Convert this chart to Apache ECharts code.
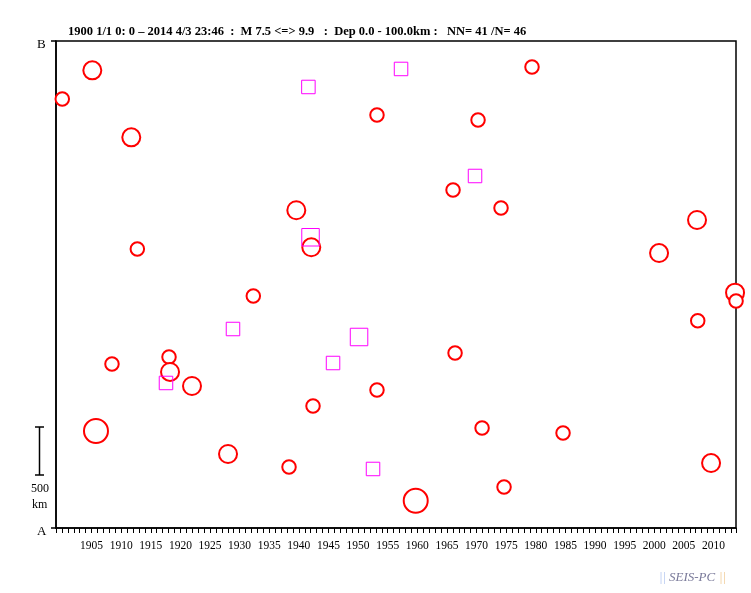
<!DOCTYPE html>
<html><head><meta charset="utf-8">
<script src="https://cdn.jsdelivr.net/npm/echarts@6/dist/echarts.min.js"></script>
<style>html,body{margin:0;padding:0;background:#fff}#c{width:751px;height:593px}</style>
</head><body><div id="c"></div>
<script>
// Shallow events (circles): [decimal year, distance along A-B (km), magnitude]
const circleYears = [1900.06,1905.13,1911.71,1912.73,1908.45,1918.08,1918.25,1905.75,1921.96,1928.04,1932.31,1939.57,1942.10,1938.34,1942.39,1953.19,1953.19,1959.73,1966.03,1970.25,1966.37,1974.13,1970.93,1979.36,1974.64,1984.60,2000.81,2007.22,2007.34,2013.64,2013.81,2009.59];
const circleDist  = [4405,4699,4011,2864,1684,1756,1602,996,1458,760,2382,3262,2882,626,1253,4240,1417,280,3470,4189,1797,3285,1027,4733,421,975,2823,3162,2128,2416,2331,667];
const circleMag   = [7.6,8.1,8.1,7.6,7.6,7.6,8.1,8.8,8.1,8.1,7.6,8.1,8.1,7.6,7.6,7.6,7.6,9.5,7.6,7.6,7.6,7.6,7.6,7.6,7.6,7.6,8.1,8.1,7.6,8.1,7.6,8.1];
// Other events (squares)
const squareYears = [1941.61,1957.25,1969.74,1941.97,1928.88,1950.16,1945.77,1917.57,1952.52];
const squareDist  = [4528,4713,3614,2985,2043,1961,1694,1489,606];
const squareMag   = [7.6,7.6,7.6,8.1,7.6,8.1,7.6,7.6,7.6];

const titleText = '1900 1/1 0: 0 \u2013 2014 4/3 23:46  :  M 7.5 <=> 9.9   :  Dep 0.0 - 100.0km :   NN= 41 /N= 46';
const yearLabelsFrom = 1905, yearLabelsTo = 2010;

function sizeOf(m){ return m >= 8.5 ? 24 : (m >= 8.0 ? 18 : 13.5); }
function sqSizeOf(m){ return m >= 8.0 ? 17.5 : 13.5; }

const chart = echarts.init(document.getElementById('c'));
const serif = '"Liberation Serif","DejaVu Serif",serif';
const xMin = 1899, xMax = 2013.8;

chart.setOption({
  animation:false,
  backgroundColor:'#fff',
  grid:{left:56,right:15,top:41,bottom:65,show:true,borderColor:'#000',borderWidth:1.5,backgroundColor:'transparent'},
  xAxis:[{
    type:'value',min:xMin,max:xMax,interval:1,
    axisLine:{show:true,onZero:false,lineStyle:{color:'#000',width:1.5}},
    axisTick:{show:true,length:5,lineStyle:{color:'#000',width:1}},
    splitLine:{show:false},
    axisLabel:{margin:12,fontFamily:serif,fontSize:11.5,color:'#000',
      formatter:function(v){ const r=Math.round(v); return (Math.abs(v-r)<1e-6 && r%5===0 && r>=yearLabelsFrom && r<=yearLabelsTo)? String(r):''; }}
  }],
  yAxis:[{
    type:'value',min:0,max:5000,interval:5000,
    axisLine:{show:true,lineStyle:{color:'#000',width:1.5}},
    axisTick:{show:true,length:5,lineStyle:{color:'#000',width:1.5}},
    splitLine:{show:false},
    axisLabel:{show:false}
  }],
  title:{text:titleText,left:68,top:25,padding:0,textStyle:{fontFamily:serif,fontSize:12.5,fontWeight:'bold',color:'#000'}},
  series:[
    {type:'scatter',symbol:'emptyCircle',clip:false,
     data:circleYears.map((y,i)=>[y,circleDist[i],circleMag[i]]),
     symbolSize:function(d){return sizeOf(d[2]);},
     itemStyle:{color:'#ff0000',borderColor:'#ff0000',borderWidth:0.9,opacity:1}},
    {type:'scatter',symbol:'rect',clip:false,
     data:squareYears.map((y,i)=>[y,squareDist[i],squareMag[i]]),
     symbolSize:function(d){return sqSizeOf(d[2]);},
     itemStyle:{color:'rgba(0,0,0,0)',borderColor:'#ff00ff',borderWidth:1,opacity:1}}
  ],
  graphic:[
    {type:'text',left:37,top:38,style:{text:'B',font:'13px '+serif,fill:'#000'}},
    {type:'text',left:37,top:525,style:{text:'A',font:'13px '+serif,fill:'#000'}},
    {type:'line',shape:{x1:39.5,y1:427,x2:39.5,y2:475},style:{stroke:'#000',lineWidth:1.5}},
    {type:'line',shape:{x1:35,y1:427,x2:44,y2:427},style:{stroke:'#000',lineWidth:1.5}},
    {type:'line',shape:{x1:35,y1:475,x2:44,y2:475},style:{stroke:'#000',lineWidth:1.5}},
    {type:'text',left:31,top:483,style:{text:'500',font:'12px '+serif,fill:'#000'}},
    {type:'text',left:32,top:499,style:{text:'km',font:'12px '+serif,fill:'#000'}},
    {type:'text',left:659,top:571,style:{text:'||',font:'italic 13px '+serif,fill:'#b0c4f0'}},
    {type:'text',left:669,top:571,style:{text:'SEIS-PC',font:'italic 13px '+serif,fill:'#7a7a9a'}},
    {type:'text',left:719,top:571,style:{text:'||',font:'italic 13px '+serif,fill:'#f0c890'}}
  ]
});
</script></body></html>
